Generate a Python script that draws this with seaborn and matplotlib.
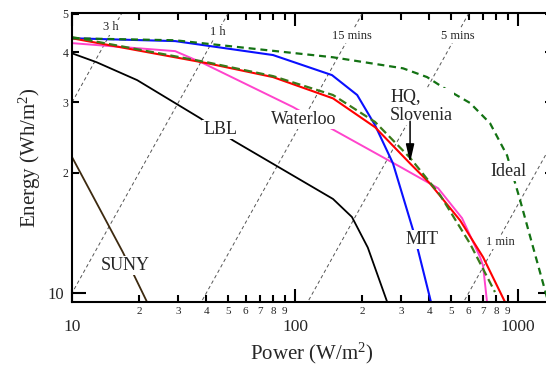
import numpy as np
import pandas as pd
import matplotlib
matplotlib.use("Agg")
import matplotlib.pyplot as plt
import matplotlib.ticker as mticker
import seaborn as sns

# ---------------- data ----------------
mit_p = [10, 29.0, 79.7, 146.5, 190, 228.5, 275, 338, 407]
mit_e = [43.4, 42.7, 39.4, 35.1, 31.3, 26.3, 21.1, 14.4, 9.5]

hq_p = [10, 40.3, 79.7, 148, 228.5, 328, 403, 550, 697, 874]
hq_e = [43.4, 37.6, 34.7, 30.7, 26.0, 21.1, 18.8, 15.2, 12.3, 9.5]

slo_p = [10, 40.3, 79.7, 148, 228.5, 328, 447, 609, 788]
slo_e = [43.7, 37.8, 34.9, 31.3, 26.8, 21.8, 17.6, 13.3, 10.06]

wat_p = [10, 29.0, 38.7, 98, 143.5, 296, 438, 561, 676, 697, 726]
wat_e = [42.2, 40.3, 37.6, 29.2, 25.9, 20.7, 18.3, 15.4, 12.3, 11.7, 9.5]

lbl_p = [10, 12.9, 19.6, 37.5, 52.7, 148, 180, 212, 259]
lbl_e = [39.8, 37.8, 34.1, 27.4, 24.1, 17.2, 15.5, 13.0, 9.5]

suny_p = [10, 16.9, 21.7]
suny_e = [21.9, 12.66, 9.5]

ideal_p = [10, 29.0, 69.7, 148, 305, 391, 461, 609, 749, 893, 1021, 1156, 1294, 1420]
ideal_e = [43.4, 42.9, 40.7, 38.9, 36.5, 34.7, 32.7, 29.9, 26.6, 22.1, 17.1, 13.3, 10.6, 8.76]

# iso-time lines (hours) and their labels
time_hours = [3, 1, 0.25, 1 / 12, 1 / 60]
time_labels = ["3 h", "1 h", "15 mins", "5 mins", "1 min"]
time_label_p = [14.96, 45.2, 180, 538, 830]
time_label_e = [46.2, 44.9, 43.9, 43.9, 13.4]

x_major = [10, 100, 1000]
x_minor = [20, 30, 40, 50, 60, 70, 80, 90, 200, 300, 400, 500, 600, 700, 800, 900]
y_major = [10]
y_minor = [20, 30, 40, 50]

# ---------------- style ----------------
sns.set_style("ticks")
plt.rcParams["font.family"] = ["Liberation Serif", "DejaVu Serif"]
plt.rcParams["mathtext.default"] = "regular"
plt.rcParams["lines.scale_dashes"] = False

fig = plt.figure(figsize=(5.46, 3.70), dpi=100)
ax = fig.add_axes([72 / 546, 1 - 302 / 370, (552 - 72) / 546, (302 - 13) / 370])
ax.set_facecolor("white")
ax.set_xscale("log")
ax.set_yscale("log")

# iso-time reference lines
p_line = np.array([1.0, 5000.0])
for t in time_hours:
    sns.lineplot(x=p_line, y=p_line * t, ax=ax, color="#555555", lw=0.7,
                 linestyle=(0, (2.5, 2)), sort=False, estimator=None, zorder=1)

series = [
    (lbl_p, lbl_e, "black", "-", 1.3),
    (suny_p, suny_e, "#3d2a10", "-", 1.3),
    (wat_p, wat_e, "#ff44cc", "-", 1.4),
    (mit_p, mit_e, "#0a10ff", "-", 1.5),
    (hq_p, hq_e, "#ff0000", "-", 1.5),
    (slo_p, slo_e, "#3a7a1a", (0, (6, 3)), 1.6),
    (ideal_p, ideal_e, "#137213", (0, (5, 3.5)), 1.6),
]
for px, py, col, ls, lw in series:
    df = pd.DataFrame({"P": px, "E": py})
    sns.lineplot(data=df, x="P", y="E", ax=ax, color=col, lw=lw, linestyle=ls,
                 sort=False, estimator=None, zorder=2)

ax.set_xlim(10, 1420)
ax.set_ylim(9.5, 50.2)

# labels
box = dict(fc="white", ec="none", pad=0.8)
for lab, lp, le in zip(time_labels, time_label_p, time_label_e):
    ax.text(lp, le, lab, fontsize=9, ha="center", va="center", bbox=box, zorder=4)

ax.text(46.1, 25.6, "LBL", fontsize=13, ha="center", va="center", bbox=box, zorder=4)
ax.text(109.8, 27.2, "Waterloo", fontsize=13, ha="center", va="center", bbox=box, zorder=4)
ax.text(17.3, 11.75, "SUNY", fontsize=13, ha="center", va="center", bbox=box, zorder=4)
ax.text(371, 13.6, "MIT", fontsize=13, ha="center", va="center", bbox=box, zorder=4)
ax.text(902, 20.2, "Ideal", fontsize=13, ha="center", va="center", bbox=box, zorder=4)
ax.text(267, 29.3, "HQ,\nSlovenia", fontsize=13, ha="left", va="center",
        linespacing=1.05, bbox=box, zorder=4)
ax.annotate("", xy=(328, 21.2), xytext=(328, 26.9),
            arrowprops=dict(arrowstyle="-|>,head_length=1.1,head_width=0.25",
                            color="black", lw=1.1, mutation_scale=10,
                            shrinkA=0, shrinkB=0), zorder=5)

# axes / ticks
ax.xaxis.set_major_locator(mticker.FixedLocator(x_major))
ax.xaxis.set_minor_locator(mticker.FixedLocator(x_minor))
ax.xaxis.set_major_formatter(mticker.FixedFormatter([str(v) for v in x_major]))
ax.xaxis.set_minor_formatter(mticker.FixedFormatter([str(v)[0] for v in x_minor]))
ax.yaxis.set_major_locator(mticker.FixedLocator(y_major))
ax.yaxis.set_minor_locator(mticker.FixedLocator(y_minor))
ax.yaxis.set_major_formatter(mticker.FixedFormatter([str(v) for v in y_major]))
ax.yaxis.set_minor_formatter(mticker.FixedFormatter([str(v)[0] for v in y_minor]))

ax.tick_params(which="both", direction="in", top=True, right=True, width=1.5, color="black")
ax.tick_params(axis="x", which="major", length=9.5, pad=12.5, labelsize=12.5)
ax.tick_params(axis="x", which="minor", length=5, pad=3.5, labelsize=8)
ax.tick_params(axis="y", which="major", length=10, pad=6, labelsize=12)
ax.tick_params(axis="y", which="minor", length=5, pad=2.5, labelsize=8.5)
for s in ax.spines.values():
    s.set_linewidth(1.5)
    s.set_color("black")

ax.set_xlabel("Power (W/m$^2$)", fontsize=15, labelpad=4)
ax.set_ylabel("Energy (Wh/m$^2$)", fontsize=15, labelpad=3)

fig.savefig("out.png", dpi=100)
